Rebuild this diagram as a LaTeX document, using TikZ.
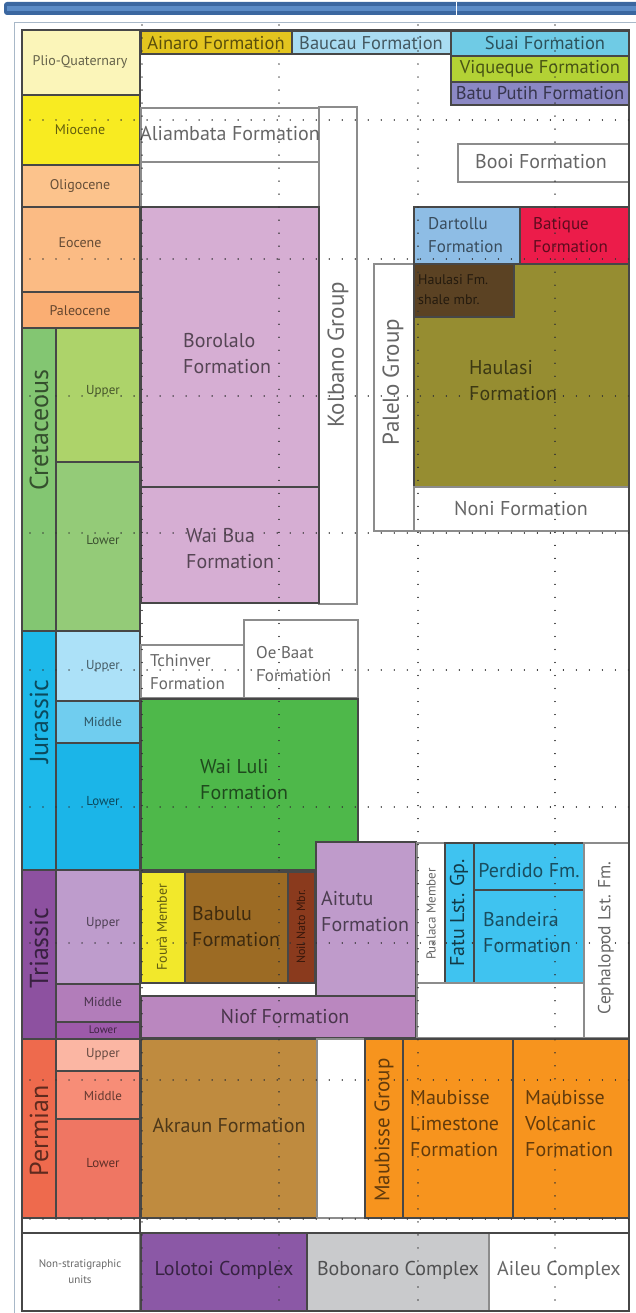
\documentclass[tikz,border=0pt]{standalone}
\usepackage{fontspec}
\setmainfont{PT Sans}
\definecolor{cPQ}{HTML}{FBF5B9}
\definecolor{cMio}{HTML}{F8EB21}
\definecolor{cOli}{HTML}{FCC38C}
\definecolor{cEoc}{HTML}{FBBB84}
\definecolor{cPal}{HTML}{FAAE73}
\definecolor{cCre}{HTML}{83C672}
\definecolor{cCreU}{HTML}{ADD36A}
\definecolor{cCreL}{HTML}{94CB78}
\definecolor{cJur}{HTML}{1DB9EA}
\definecolor{cJurU}{HTML}{ACE1F8}
\definecolor{cJurM}{HTML}{70CDEF}
\definecolor{cJurL}{HTML}{1BB5E8}
\definecolor{cTri}{HTML}{8D51A0}
\definecolor{cTriU}{HTML}{BE9CCC}
\definecolor{cTriM}{HTML}{B27DBA}
\definecolor{cTriL}{HTML}{9D5AAA}
\definecolor{cPer}{HTML}{EE6A4D}
\definecolor{cPerU}{HTML}{FBB6A3}
\definecolor{cPerM}{HTML}{F78D77}
\definecolor{cPerL}{HTML}{EF7663}
\definecolor{cAin}{HTML}{E3C51F}
\definecolor{cBau}{HTML}{A9DCF2}
\definecolor{cSua}{HTML}{6FCBE5}
\definecolor{cViq}{HTML}{B3D235}
\definecolor{cBat}{HTML}{8B88C4}
\definecolor{cBor}{HTML}{D6AED3}
\definecolor{cDar}{HTML}{8EBDE5}
\definecolor{cBtq}{HTML}{EC1C4A}
\definecolor{cHsm}{HTML}{5B4223}
\definecolor{cHau}{HTML}{968D31}
\definecolor{cWlu}{HTML}{4EB84A}
\definecolor{cFou}{HTML}{F2E82B}
\definecolor{cBab}{HTML}{9C6B24}
\definecolor{cNn}{HTML}{8A3A1D}
\definecolor{cAit}{HTML}{BF9BCB}
\definecolor{cNio}{HTML}{BA87BF}
\definecolor{cFat}{HTML}{3FC3F0}
\definecolor{cAkr}{HTML}{BF8B3F}
\definecolor{cMau}{HTML}{F7941E}
\definecolor{cLol}{HTML}{8B58A6}
\definecolor{cBob}{HTML}{C9CACC}
\definecolor{cBar}{HTML}{3B67A0}
\definecolor{cBarL}{HTML}{5B8BC6}
\definecolor{cEd}{HTML}{A8B8C8}
\tikzset{
  bx/.style={draw=black!72, line width=1.5pt, inner sep=0pt, outer sep=0pt},
  wb/.style={bx, draw=black!45, fill=white},
  lbl/.style={text=black, text opacity=0.6, inner sep=0pt},
  ep/.style={lbl, font=\fontsize{14}{16}\selectfont},
  sub/.style={lbl, font=\fontsize{13}{15}\selectfont},
  per/.style={lbl, rotate=90, font=\fontsize{26}{30}\selectfont},
  fm/.style={lbl, font=\fontsize{20}{26}\selectfont},
  fms/.style={lbl, font=\fontsize{17}{23}\selectfont},
  fmt/.style={lbl, font=\fontsize{18.5}{22}\selectfont},
  grp/.style={lbl, rotate=90, font=\fontsize{23}{26}\selectfont},
  frame/.style={draw=black!72, line width=2.5pt},
  dotgrid/.style={black!80, line width=1.4pt, dash pattern=on 0.01pt off 13pt, line cap=round}
}
\newcommand\bx[6]{\node[#6, anchor=north west, minimum width={#4pt-#2pt}, minimum height={#5pt-#3pt}] (#1) at (#2,#3) {};}
\begin{document}
\begin{tikzpicture}[x=1pt,y=-1pt]
\useasboundingbox (0,0) rectangle (636,1313);
% editor bits
\fill[cBar, rounded corners=3pt] (4,2) rectangle (640,15);
\fill[cBarL] (7,6) rectangle (636,11);
\draw[white, line width=1pt] (456,2) -- (456,15);
\draw[cEd, line width=1pt] (14,23) -- (636,23);
\draw[cEd, line width=1pt] (14,23) -- (14,1313);
% left column
\bx{pq}{22}{30}{140}{95}{bx,fill=cPQ}
\bx{mio}{22}{95}{140}{165}{bx,fill=cMio}
\bx{oli}{22}{165}{140}{207}{bx,fill=cOli}
\bx{eoc}{22}{207}{140}{292}{bx,fill=cEoc}
\bx{pal}{22}{292}{140}{328}{bx,fill=cPal}
\bx{cre}{22}{328}{56}{631}{bx,fill=cCre}
\bx{creU}{56}{328}{140}{462}{bx,fill=cCreU}
\bx{creL}{56}{462}{140}{631}{bx,fill=cCreL}
\bx{jur}{22}{631}{56}{870}{bx,fill=cJur}
\bx{jurU}{56}{631}{140}{701}{bx,fill=cJurU}
\bx{jurM}{56}{701}{140}{743}{bx,fill=cJurM}
\bx{jurL}{56}{743}{140}{870}{bx,fill=cJurL}
\bx{tri}{22}{870}{56}{1039}{bx,fill=cTri}
\bx{triU}{56}{870}{140}{984}{bx,fill=cTriU}
\bx{triM}{56}{984}{140}{1022}{bx,fill=cTriM}
\bx{triL}{56}{1022}{140}{1039}{bx,fill=cTriL}
\bx{perm}{22}{1039}{56}{1218}{bx,fill=cPer}
\bx{permU}{56}{1039}{140}{1071}{bx,fill=cPerU}
\bx{permM}{56}{1071}{140}{1119}{bx,fill=cPerM}
\bx{permL}{56}{1119}{140}{1218}{bx,fill=cPerL}
\bx{nsu}{22}{1233}{140}{1311}{wb}
% top row
\bx{ain}{141}{31}{292}{54}{bx,fill=cAin}
\bx{bau}{292}{31}{451}{54}{bx,fill=cBau}
\bx{sua}{451}{31}{629}{56}{bx,fill=cSua}
\bx{viq}{451}{56}{629}{82}{bx,fill=cViq}
\bx{bat}{451}{82}{629}{105}{bx,fill=cBat}
% middle
\bx{ali}{141}{108}{319}{162}{wb}
\bx{ali2}{141}{162}{319}{207}{wb}
\bx{kol}{319}{107}{357}{604}{wb}
\bx{bor}{141}{207}{319}{487}{bx,fill=cBor}
\bx{wbu}{141}{487}{319}{603}{bx,fill=cBor}
\bx{tch}{141}{645}{244}{698}{wb}
\bx{oeb}{244}{620}{358}{698}{wb}
\bx{wlu}{141}{699}{358}{870}{bx,fill=cWlu}
\bx{fou}{141}{872}{185}{983}{bx,fill=cFou}
\bx{bab}{185}{872}{288}{983}{bx,fill=cBab}
\bx{nn}{288}{872}{315}{983}{bx,fill=cNn}
\bx{ait}{316}{842}{416}{996}{bx,fill=cAit}
\bx{nio}{141}{996}{416}{1038}{bx,fill=cNio}
\bx{pua}{417}{843}{445}{983}{wb}
\bx{fat}{445}{843}{474}{983}{bx,fill=cFat}
\bx{perd}{474}{843}{584}{890}{bx,fill=cFat}
\bx{band}{474}{890}{584}{983}{bx,fill=cFat}
\bx{blk}{417}{983}{584}{1038}{wb}
\bx{cep}{584}{843}{629}{1038}{wb}
\bx{akr}{141}{1039}{317}{1218}{bx,fill=cAkr}
\bx{blk2}{317}{1039}{365}{1218}{wb}
\bx{mg}{365}{1039}{403}{1218}{bx,fill=cMau}
\bx{mlf}{403}{1039}{513}{1218}{bx,fill=cMau}
\bx{mvf}{513}{1039}{629}{1218}{bx,fill=cMau}
\bx{lol}{141}{1233}{307}{1311}{bx,fill=cLol}
\bx{bob}{307}{1233}{489}{1311}{bx,fill=cBob}
\bx{ail}{489}{1233}{629}{1311}{wb}
% right
\bx{booi}{458}{144}{629}{182}{wb}
\bx{dar}{414}{207}{520}{264}{bx,fill=cDar}
\bx{btq}{520}{207}{629}{264}{bx,fill=cBtq}
\bx{pgp}{374}{264}{414}{531}{wb}
\bx{hau}{414}{264}{629}{487}{bx,fill=cHau}
\bx{hsm}{414}{264}{514}{317}{bx,fill=cHsm}
\bx{non}{414}{487}{629}{531}{wb}
% frame
\coordinate (f1) at (22,30);
\coordinate (f2) at (629,1311);
\coordinate (g1) at (22,1233);
\coordinate (g2) at (629,1233);
\coordinate (g3) at (140,1218);
\coordinate (g4) at (140,1233);
\draw[frame] (f1) rectangle (f2);
\draw[frame] (g1) -- (g2);
\draw[bx] (g3) -- (g4);
% labels: left
\node[ep] (tPQ) at (80,62) {Plio-Quaternary};
\node[ep] (tMio) at (80,130) {Miocene};
\node[ep] (tOli) at (80,186) {Oligocene};
\node[ep] (tEoc) at (80,243) {Eocene};
\node[ep] (tPal) at (80,311) {Paleocene};
\node[per] (tCre) at (39,430) {Cretaceous};
\node[sub] (tCreU) at (103,391) {Upper};
\node[sub] (tCreL) at (103,540) {Lower};
\node[per] (tJur) at (39,722) {Jurassic};
\node[sub] (tJurU) at (103,666) {Upper};
\node[sub] (tJurM) at (103,722) {Middle};
\node[sub] (tJurL) at (103,801) {Lower};
\node[per] (tTri) at (39,948) {Triassic};
\node[sub] (tTriU) at (103,923) {Upper};
\node[sub] (tTriM) at (103,1002) {Middle};
\node[lbl, font=\fontsize{11}{12}\selectfont] (tTriL) at (103,1030) {Lower};
\node[per] (tPer) at (39,1131) {Permian};
\node[sub] (tPerU) at (103,1054) {Upper};
\node[sub] (tPerM) at (103,1096) {Middle};
\node[sub] (tPerL) at (103,1163) {Lower};
\node[lbl, align=center, font=\fontsize{11}{16}\selectfont] (tNsu) at (80,1272) {Non-stratigraphic\\units};
% labels: formations
\node[fmt] (tAin) at (216,43) {Ainaro Formation};
\node[fmt] (tBau) at (371,43) {Baucau Formation};
\node[fmt] (tSua) at (545,43) {Suai Formation};
\node[fmt] (tViq) at (540,69) {Viqueque Formation};
\node[fmt] (tBat) at (540,93) {Batu Putih Formation};
\node[fm] (tAli) at (230,134) {Aliambata Formation};
\node[grp] (tKol) at (338,355) {Kolbano Group};
\node[fm] (tBooi) at (541,162) {Booi Formation};
\node[fm, anchor=west, align=left] (tBor) at (183,354) {Borolalo\\Formation};
\node[fm, anchor=west, align=left] (tWbu) at (186,549) {Wai Bua\\Formation};
\node[fms, anchor=west, align=left] (tDar) at (428,235) {Dartollu\\Formation};
\node[fms, anchor=west, align=left] (tBtq) at (533,235) {Batique\\Formation};
\node[grp] (tPgp) at (393,382) {Palelo Group};
\node[lbl, anchor=west, align=left, font=\fontsize{14}{20}\selectfont] (tHsm) at (418,290) {Haulasi Fm.\\shale mbr.};
\node[fm, anchor=west, align=left] (tHau) at (469,381) {Haulasi\\Formation};
\node[fm] (tNon) at (521,509) {Noni Formation};
\node[fms, anchor=west, align=left] (tTch) at (150,672) {Tchinver\\Formation};
\node[fms, anchor=west, align=left] (tOeb) at (256,664) {Oe Baat\\Formation};
\node[fm, anchor=west, align=left] (tWlu) at (200,780) {Wai Luli\\Formation};
\node[lbl, rotate=90, font=\fontsize{14}{16}\selectfont] (tFou) at (162,927) {Fourà Member};
\node[fm, anchor=west, align=left] (tBab) at (192,927) {Babulu\\Formation};
\node[lbl, rotate=90, font=\fontsize{12}{14}\selectfont] (tNn) at (301,927) {Noil Nato Mbr.};
\node[fm, anchor=west, align=left] (tAit) at (321,911) {Aitutu\\Formation};
\node[fm] (tNio) at (285,1016) {Niof Formation};
\node[lbl, rotate=90, font=\fontsize{13}{15}\selectfont] (tPua) at (431,914) {Pualaca Member};
\node[fm, rotate=90, text opacity=0.7] (tFat) at (459,913) {Fatu Lst. Gp.};
\node[fm] (tPerd) at (529,871) {Perdido Fm.};
\node[fm, anchor=west, align=left] (tBand) at (483,933) {Bandeira\\Formation};
\node[lbl, rotate=90, font=\fontsize{17.5}{19}\selectfont] (tCep) at (606,938) {Cephalopod Lst. Fm.};
\node[fm] (tAkr) at (229,1125) {Akraun Formation};
\node[lbl, rotate=90, font=\fontsize{21}{23}\selectfont] (tMg) at (384,1130) {Maubisse Group};
\node[fm, anchor=west, align=left] (tMlf) at (410,1124) {Maubisse\\Limestone\\Formation};
\node[fm, anchor=west, align=left] (tMvf) at (525,1124) {Maubisse\\Volcanic\\Formation};
\node[fm] (tLol) at (224,1270) {Lolotoi Complex};
\node[fm] (tBob) at (398,1270) {Bobonaro Complex};
\node[fm] (tAil) at (559,1270) {Aileu Complex};
% dotted guides
\foreach \x in {142,279,418,555} \draw[dotgrid] (\x,25) -- (\x,1311);
\foreach \y in {120,259,396,533,670,807,943,1080,1219} \draw[dotgrid] (30,\y) -- (636,\y);
\end{tikzpicture}
\end{document}
